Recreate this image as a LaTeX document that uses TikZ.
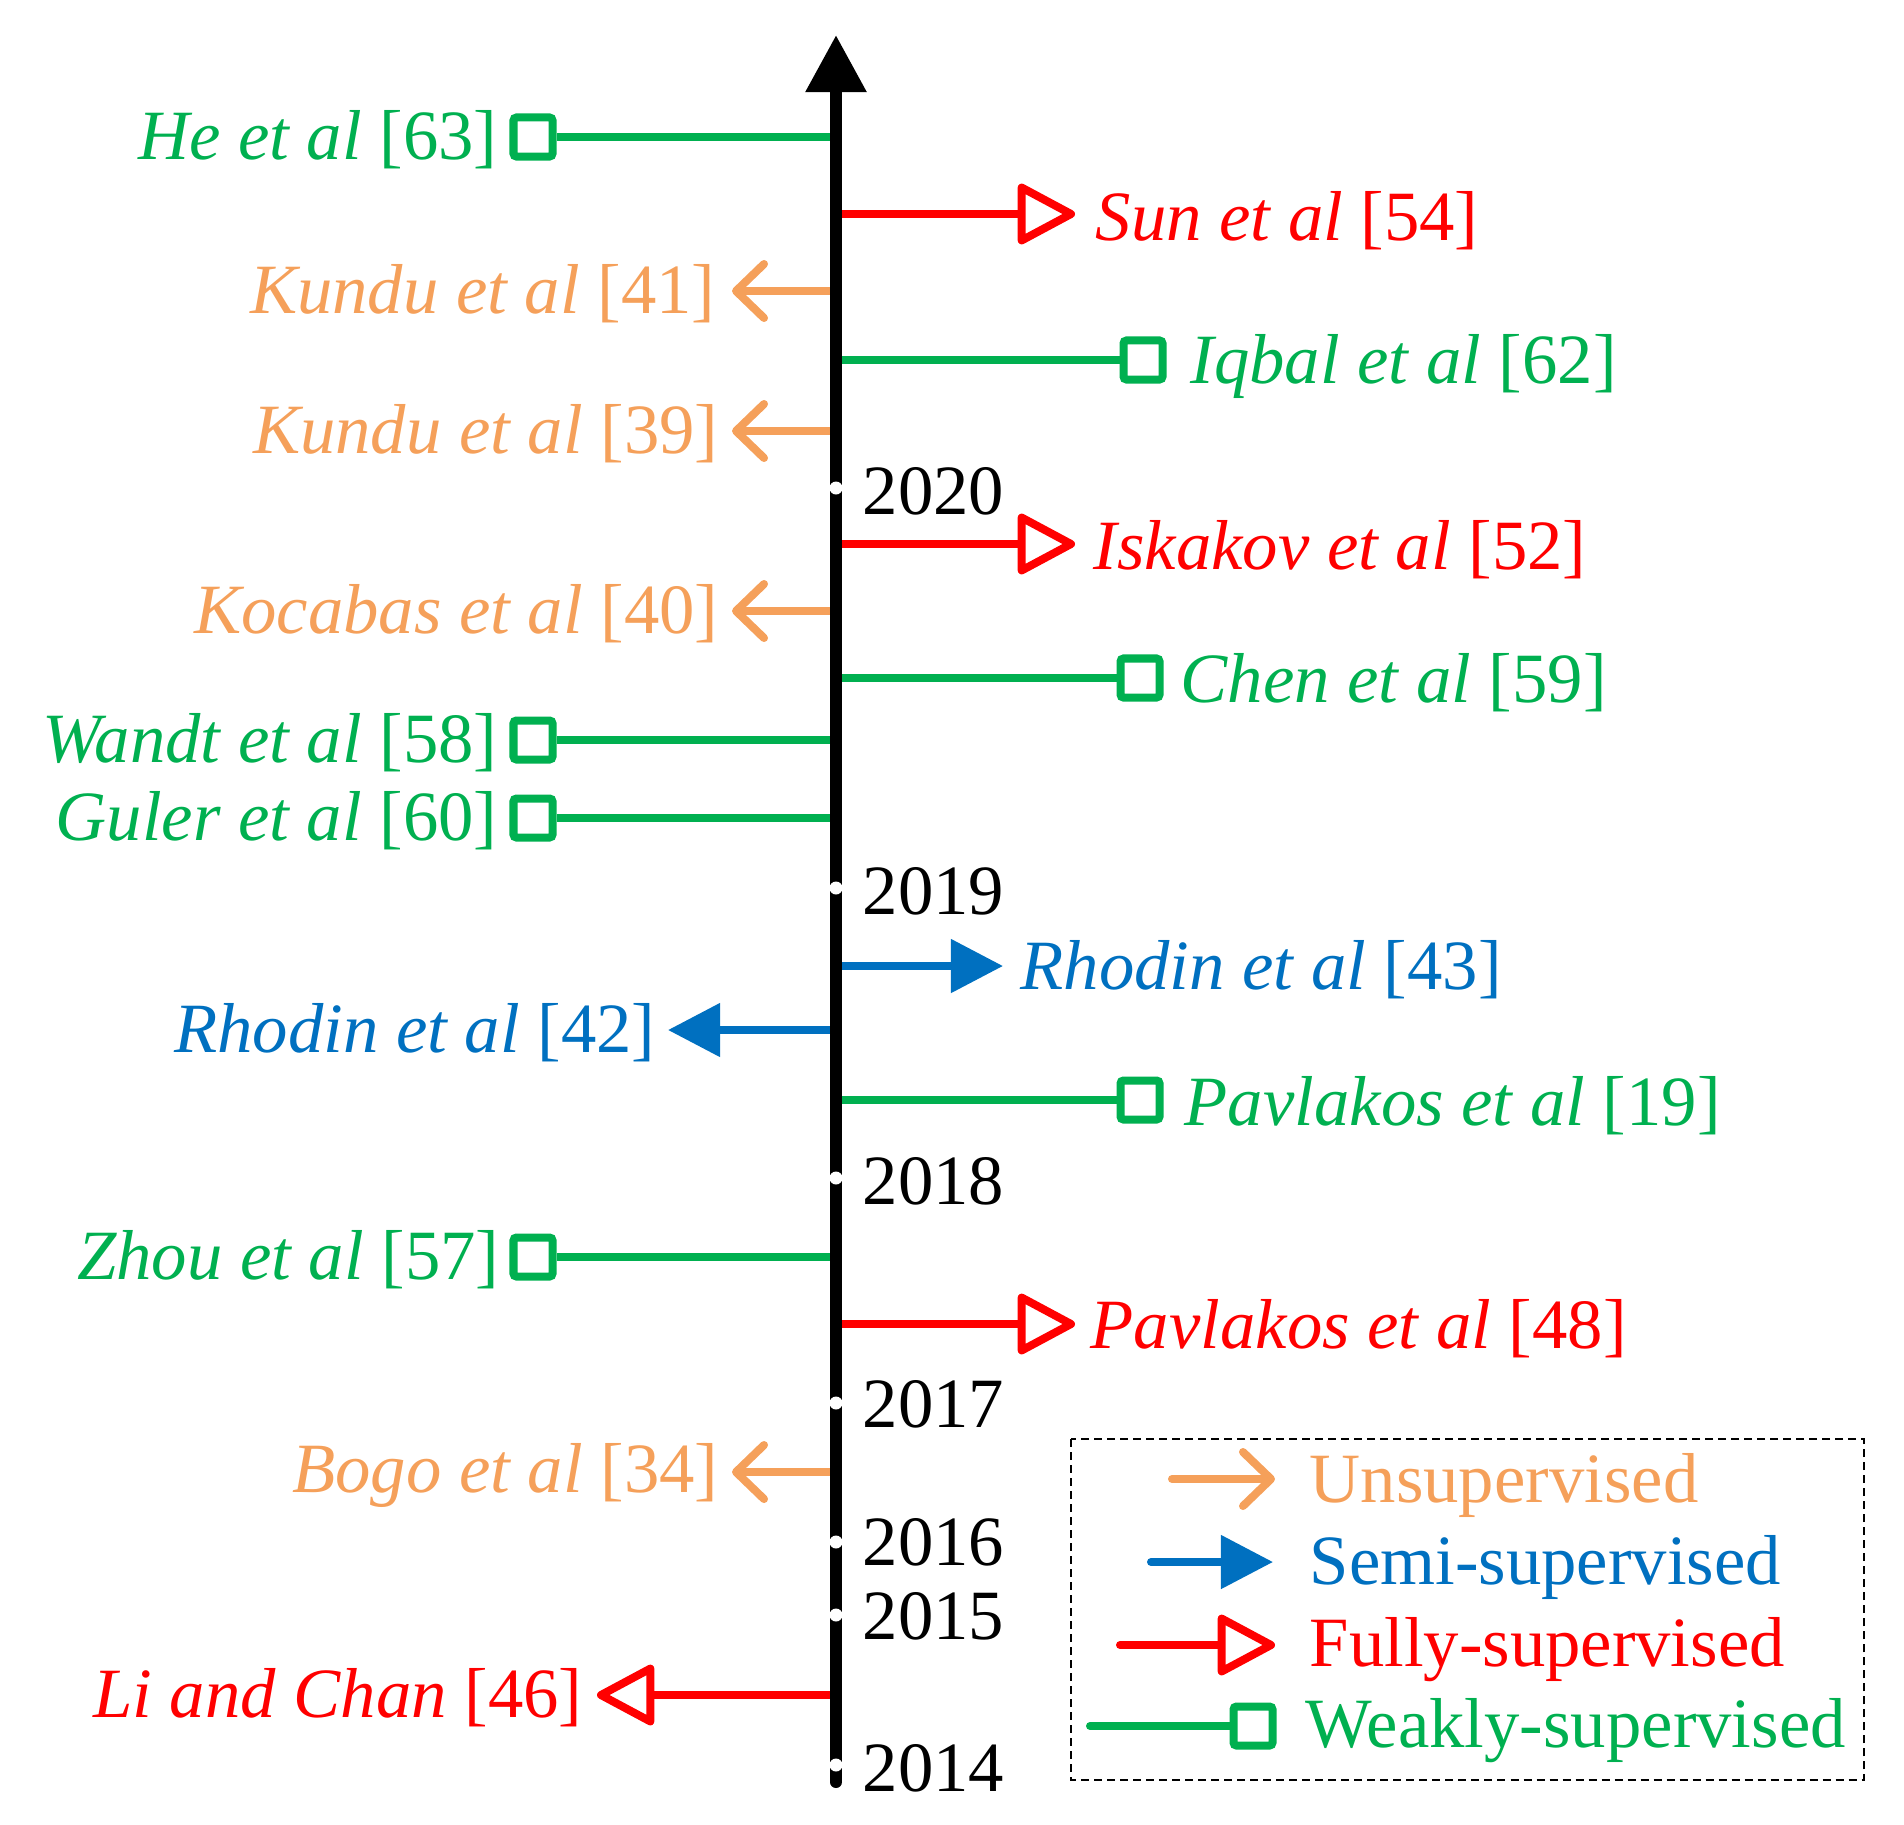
\documentclass[tikz,border=0pt]{standalone}
\usepackage{fontspec}
\setmainfont{Liberation Serif}
\usetikzlibrary{arrows.meta}
\definecolor{cOr}{RGB}{245,160,90}
\definecolor{cBl}{RGB}{0,112,192}
\definecolor{cRd}{RGB}{255,0,0}
\definecolor{cGr}{RGB}{0,176,80}
\newcommand\lblfont{\fontsize{20.1pt}{24pt}\selectfont}
\tikzset{
  br/.style={line width=0.08cm},
  unsup/.style={br, draw=cOr, -{Straight Barb[length=0.28cm,width=0.54cm,round]}},
  semi/.style={br, draw=cBl, -{Triangle[length=0.52cm,width=0.52cm]}},
  fully/.style={br, draw=cRd, -{Triangle[open,round,length=0.62cm,width=0.64cm]}},
  weak/.style={br, draw=cGr},
  sq/.style={draw=cGr, line width=0.08cm, minimum size=0.39cm, inner sep=0pt, rounded corners=0.03cm, fill=white},
  lab/.style={font=\lblfont, inner sep=0pt},
  yr/.style={font=\lblfont, inner sep=0pt, anchor=west},
  tick/.style={circle, fill=white, inner sep=0pt, minimum size=0.13cm},
}
\begin{document}
\begin{tikzpicture}[x=0.01cm,y=-0.01cm]
\useasboundingbox (0,0) rectangle (1904,1824);

% ---------- left branches ----------
% He et al [63]
\coordinate (a63) at (836,137);
\node[sq] (s63) at (533,137) {};
\draw[weak] (a63) -- (s63);
\node[lab, anchor=east, text=cGr] (n63) at (498,140) {\itshape He et al\/ \upshape[63]};
% Kundu [41]
\coordinate (a41) at (836,291); \coordinate (t41) at (732,291);
\draw[unsup] (a41) -- (t41);
\node[lab, anchor=east, text=cOr] (n41) at (716,294) {\itshape Kundu et al\/ \upshape[41]};
% Kundu [39]
\coordinate (a39) at (836,431); \coordinate (t39) at (732,431);
\draw[unsup] (a39) -- (t39);
\node[lab, anchor=east, text=cOr] (n39) at (719,434) {\itshape Kundu et al\/ \upshape[39]};
% Kocabas [40]
\coordinate (a40) at (836,611); \coordinate (t40) at (732,611);
\draw[unsup] (a40) -- (t40);
\node[lab, anchor=east, text=cOr] (n40) at (719,614) {\itshape Kocabas et al\/ \upshape[40]};
% Wandt [58]
\coordinate (a58) at (836,740);
\node[sq] (s58) at (533,740) {};
\draw[weak] (a58) -- (s58);
\node[lab, anchor=east, text=cGr] (n58) at (498,743) {\itshape Wandt et al\/ \upshape[58]};
% Guler [60]
\coordinate (a60) at (836,818);
\node[sq] (s60) at (533,818) {};
\draw[weak] (a60) -- (s60);
\node[lab, anchor=east, text=cGr] (n60) at (498,821) {\itshape Guler et al\/ \upshape[60]};
% Rhodin [42]
\coordinate (a42) at (836,1030); \coordinate (t42) at (668,1030);
\draw[semi] (a42) -- (t42);
\node[lab, anchor=east, text=cBl] (n42) at (656,1033) {\itshape Rhodin et al\/ \upshape[42]};
% Zhou [57]
\coordinate (a57) at (836,1257);
\node[sq] (s57) at (533,1257) {};
\draw[weak] (a57) -- (s57);
\node[lab, anchor=east, text=cGr] (n57) at (500,1260) {\itshape Zhou et al\/ \upshape[57]};
% Bogo [34]
\coordinate (a34) at (836,1472); \coordinate (t34) at (732,1472);
\draw[unsup] (a34) -- (t34);
\node[lab, anchor=east, text=cOr] (n34) at (719,1475) {\itshape Bogo et al\/ \upshape[34]};
% Li and Chan [46]
\coordinate (a46) at (836,1695); \coordinate (t46) at (597,1695);
\draw[fully] (a46) -- (t46);
\node[lab, anchor=east, text=cRd] (n46) at (583,1698) {\itshape Li and Chan\/ \upshape[46]};

% ---------- right branches ----------
% Sun [54]
\coordinate (a54) at (836,214); \coordinate (t54) at (1075,214);
\draw[fully] (a54) -- (t54);
\node[lab, anchor=west, text=cRd] (n54) at (1095,221) {\itshape Sun et al\/ \upshape[54]};
% Iqbal [62]
\coordinate (a62) at (836,360);
\node[sq] (s62) at (1143,360) {};
\draw[weak] (a62) -- (s62);
\node[lab, anchor=west, text=cGr] (n62) at (1190,366) {\itshape Iqbal et al\/ \upshape[62]};
% Iskakov [52]
\coordinate (a52) at (836,544); \coordinate (t52) at (1075,544);
\draw[fully] (a52) -- (t52);
\node[lab, anchor=west, text=cRd] (n52) at (1093,550) {\itshape Iskakov et al\/ \upshape[52]};
% Chen [59]
\coordinate (a59) at (836,678);
\node[sq] (s59) at (1140,678) {};
\draw[weak] (a59) -- (s59);
\node[lab, anchor=west, text=cGr] (n59) at (1180,683) {\itshape Chen et al\/ \upshape[59]};
% Rhodin [43]
\coordinate (a43) at (836,966); \coordinate (t43) at (1003,966);
\draw[semi] (a43) -- (t43);
\node[lab, anchor=west, text=cBl] (n43) at (1020,970) {\itshape Rhodin et al\/ \upshape[43]};
% Pavlakos [19]
\coordinate (a19) at (836,1100);
\node[sq] (s19) at (1140,1100) {};
\draw[weak] (a19) -- (s19);
\node[lab, anchor=west, text=cGr] (n19) at (1184,1106) {\itshape Pavlakos et al\/ \upshape[19]};
% Pavlakos [48]
\coordinate (a48) at (836,1324); \coordinate (t48) at (1075,1324);
\draw[fully] (a48) -- (t48);
\node[lab, anchor=west, text=cRd] (n48) at (1090,1329) {\itshape Pavlakos et al\/ \upshape[48]};

% ---------- axis ----------
\coordinate (axb) at (836,1782);
\coordinate (axt) at (836,35);
\draw[line width=0.12cm, line cap=round, -{Triangle[length=0.57cm,width=0.58cm]}] (axb) -- (axt);

% ticks and years
\node[tick] (d2020) at (836,488) {};
\node[yr] (y2020) at (862,491) {2020};
\node[tick] (d2019) at (836,888) {};
\node[yr] (y2019) at (862,891) {2019};
\node[tick] (d2018) at (836,1178) {};
\node[yr] (y2018) at (862,1181) {2018};
\node[tick] (d2017) at (836,1403) {};
\node[yr] (y2017) at (862,1404) {2017};
\node[tick] (d2016) at (836,1542) {};
\node[yr] (y2016) at (862,1542) {2016};
\node[tick] (d2015) at (836,1615) {};
\node[yr] (y2015) at (862,1616) {2015};
\node[tick] (d2014) at (836,1765) {};
\node[yr] (y2014) at (862,1768) {2014};

% ---------- legend ----------
\draw[line width=0.025cm, dash pattern=on 0.08cm off 0.05cm] (1071,1439) rectangle (1864,1780);
\coordinate (l1a) at (1172,1479); \coordinate (l1b) at (1275,1479);
\draw[unsup, line cap=round] (l1a) -- (l1b);
\node[lab, anchor=west, text=cOr] (lt1) at (1309,1485) {Unsupervised};
\coordinate (l2a) at (1151,1562); \coordinate (l2b) at (1273,1562);
\draw[semi, line cap=round] (l2a) -- (l2b);
\node[lab, anchor=west, text=cBl] (lt2) at (1309,1567) {Semi-supervised};
\coordinate (l3a) at (1120,1645); \coordinate (l3b) at (1275,1645);
\draw[fully, line cap=round] (l3a) -- (l3b);
\node[lab, anchor=west, text=cRd] (lt3) at (1309,1650) {Fully-supervised};
\coordinate (l4a) at (1090,1726);
\node[sq] (l4s) at (1253,1726) {};
\draw[weak, line cap=round] (l4a) -- (l4s);
\node[lab, anchor=west, text=cGr] (lt4) at (1305,1731) {Weakly-supervised};
\end{tikzpicture}
\end{document}
